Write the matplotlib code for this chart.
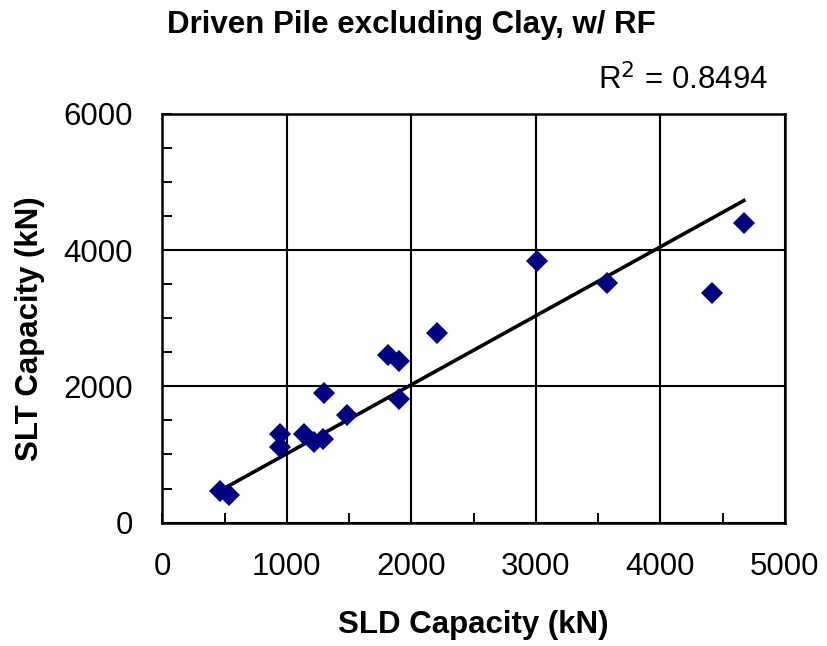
import numpy as np
import matplotlib
matplotlib.use('Agg')
import matplotlib.pyplot as plt
from matplotlib.ticker import MultipleLocator

plt.rcParams['font.family'] = ['Liberation Sans', 'DejaVu Sans']

# SLD vs SLT capacities (kN)
sld = [463, 536, 945, 945, 1138, 1218, 1293, 1299, 1481, 1815, 1901, 1901, 2204,
       3012, 3575, 4413, 4670]
slt = [463, 404, 1304, 1108, 1304, 1187, 1231, 1905, 1572, 2466, 2378, 1821, 2784,
       3839, 3521, 3370, 4396]
title = 'Driven Pile excluding Clay, w/ RF'
r2_label = 'R$^2$ = 0.8494'

x = np.array(sld, dtype=float)
y = np.array(slt, dtype=float)
# trendline through the origin
slope = (x * y).sum() / (x * x).sum()
xs = np.array([x.min(), x.max()])

fig = plt.figure(figsize=(8.28, 6.46), dpi=100)
ax = fig.add_axes([0.196, 0.191, 0.752, 0.633])

ax.plot(xs, slope * xs, color='black', linewidth=2.6, zorder=2)
ax.plot(x, y, linestyle='none', marker='D', markersize=11, color='#000080',
        markeredgewidth=0, zorder=3)

ax.set_xlim(0, 5000)
ax.set_ylim(0, 6000)
ax.xaxis.set_major_locator(MultipleLocator(1000))
ax.xaxis.set_minor_locator(MultipleLocator(500))
ax.yaxis.set_major_locator(MultipleLocator(2000))
ax.yaxis.set_minor_locator(MultipleLocator(500))
ax.grid(True, which='major', color='black', linewidth=1.5)
ax.set_axisbelow(True)
for s in ax.spines.values():
    s.set_linewidth(1.8)
ax.tick_params(which='both', direction='in', width=1.4, length=7,
               labelsize=22.5, pad=21)

fig.text(0.571, 0.033, 'SLD Capacity (kN)', fontsize=22.5, fontweight='bold',
         ha='center', va='center')
fig.text(0.036, 0.491, 'SLT Capacity (kN)', fontsize=22.5, fontweight='bold',
         rotation=90, ha='center', va='center')

fig.text(0.497, 0.961, title, fontsize=22.5, fontweight='bold', ha='center', va='center')
fig.text(0.928, 0.876, r2_label, fontsize=22.5, ha='right', va='center')

fig.savefig('out.png', dpi=100)
